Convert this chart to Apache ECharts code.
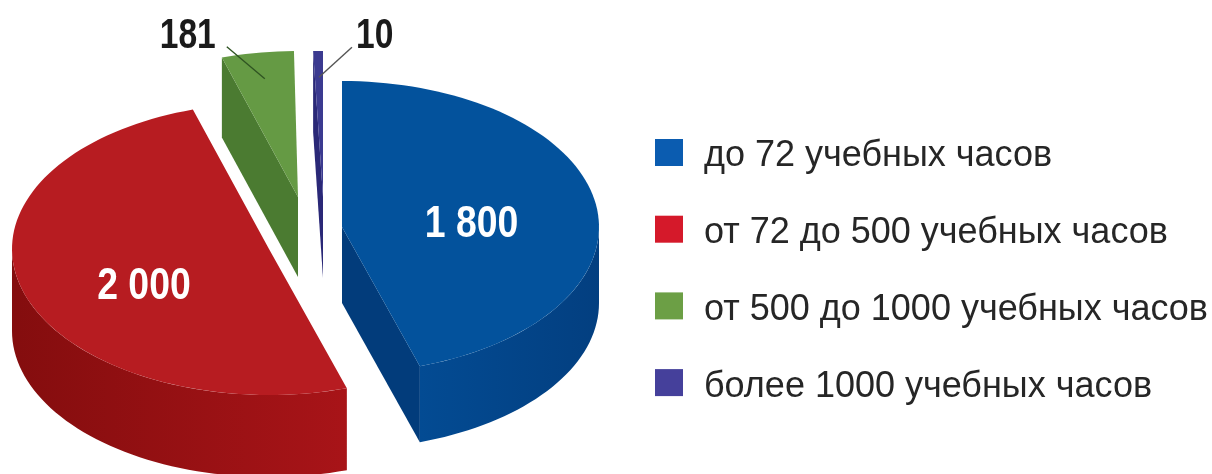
<!DOCTYPE html>
<html>
<head>
<meta charset="utf-8">
<style>html,body{margin:0;padding:0;background:#fff}#chart{width:1212px;height:474px}</style>
<script src="https://cdn.jsdelivr.net/npm/echarts@6/dist/echarts.min.js"></script>
</head>
<body>
<div id="chart"></div>
<script>
// Слушатели по продолжительности программ
const categories = ['до 72 учебных часов', 'от 72 до 500 учебных часов', 'от 500 до 1000 учебных часов', 'более 1000 учебных часов'];
const listeners = [1800, 2000, 181, 10];

// Projection of the disc and the place of each pulled-out slice
const RX = 257, RY = 146;
const MIN_SWEEP = 2.2;
const centers = [[342, 227], [269, 249], [298, 197], [323, 197]];
const depths = [76, 82, 80, 81];
const insideLabelDrop = [9, 16, 0, 0];

const legendColors = ['#0b5cb0', '#d5192a', '#6c9f45', '#45409b'];
const topColors = ['#03529c', '#b71c21', '#659a44', '#3b3a90'];
const cutColors = ['#023c7b', '#8d0f11', '#4b7b31', '#2a2877'];
const wallStops = [
  ['#034b93', '#033f80'],
  ['#840d0e', '#a81418'],
  ['#4b7b31', '#4b7b31'],
  ['#2a2877', '#2a2877']
];

const FONT = '"Liberation Sans", Arial, sans-serif';
const total = listeners.reduce((a, b) => a + b, 0);

function sweepEnd(index) {
  let sum = 0;
  for (let i = 0; i <= index; i++) sum += listeners[i];
  return sum / total * 360;
}

function onDisc(c, deg, f) {
  const a = deg * Math.PI / 180;
  return [c[0] + RX * f * Math.sin(a), c[1] - RY * f * Math.cos(a)];
}

function arc(c, a0, a1) {
  const pts = [];
  const n = Math.max(2, Math.ceil(Math.abs(a1 - a0) / 2));
  for (let i = 0; i <= n; i++) pts.push(onDisc(c, a0 + (a1 - a0) * i / n, 1));
  return pts;
}

const shift = (pts, dy) => pts.map(p => [p[0], p[1] + dy]);
const spaced = v => String(v).replace(/\B(?=(\d{3})+$)/g, ' ');

function renderSlice(index, value) {
  const c = centers[index], d = depths[index];
  const end = sweepEnd(index);
  const sweep = Math.max(value / total * 360, MIN_SWEEP);
  const start = end - sweep;
  const sin = deg => Math.sin(deg * Math.PI / 180);
  const children = [];
  const poly = (points, fill) => children.push({ type: 'polygon', shape: { points }, style: { fill } });

  // Radial cut faces that turn toward the viewer
  if (sin(start) < -1e-6 || sin(end) > 1e-6) {
    const e = onDisc(c, sin(start) < -1e-6 ? start : end, 1);
    poly([c, e, [e[0], e[1] + d], [c[0], c[1] + d]], cutColors[index]);
  }

  // Outer rim on the front half of the ellipse
  const w0 = Math.max(start, 90), w1 = Math.min(end, 270);
  if (w1 > w0) {
    const rim = arc(c, w0, w1);
    poly(rim.concat(shift(rim, d).reverse()), {
      type: 'linear', x: 0, y: 0, x2: 1, y2: 0,
      colorStops: [{ offset: 0, color: wallStops[index][0] }, { offset: 1, color: wallStops[index][1] }]
    });
  }

  // Top face
  poly([c].concat(arc(c, start, end)), topColors[index]);

  // Value labels: inside for big slices, on a leader line for thin ones
  const mid = (start + end) / 2;
  if (sweep > 60) {
    const p = onDisc(c, mid, 0.51);
    children.push({
      type: 'text',
      x: p[0],
      y: p[1] + insideLabelDrop[index],
      scaleX: 0.85,
      style: { text: spaced(value), x: 0, y: 0, fill: '#fff', font: 'bold 44px ' + FONT, align: 'center', verticalAlign: 'middle' }
    });
  } else {
    const inner = onDisc(c, mid, 0.82);
    const toRight = index === 3;
    const lineEnd = toRight ? [inner[0] + 33, inner[1] - 30] : [inner[0] - 38, inner[1] - 32];
    children.push({
      type: 'line',
      shape: { x1: inner[0], y1: inner[1], x2: lineEnd[0], y2: lineEnd[1] },
      style: { stroke: toRight ? '#555' : '#2f5422', lineWidth: 1.4 }
    });
    children.push({
      type: 'text',
      x: toRight ? lineEnd[0] + 4 : lineEnd[0] - 11,
      y: 36,
      scaleX: 0.8,
      style: {
        text: spaced(value),
        x: 0,
        y: 0,
        fill: '#1a1a1a',
        font: 'bold 42px ' + FONT,
        align: toRight ? 'left' : 'right',
        verticalAlign: 'middle'
      }
    });
  }
  return { type: 'group', children };
}

const chart = echarts.init(document.getElementById('chart'), null, { renderer: 'canvas' });
chart.setOption({
  animation: false,
  backgroundColor: '#fff',
  legend: {
    orient: 'vertical',
    left: 655,
    top: 130.5,
    padding: 0,
    itemWidth: 28,
    itemHeight: 27,
    itemGap: 32.7,
    icon: 'rect',
    selectedMode: false,
    data: categories,
    formatter: name => '{t|' + name + '}',
    textStyle: {
      rich: { t: { fontFamily: FONT, fontSize: 36, color: '#262626', lineHeight: 48, padding: [8, 0, 0, 16] } }
    }
  },
  series: categories.map((name, i) => ({
    type: 'custom',
    name,
    coordinateSystem: 'none',
    silent: true,
    itemStyle: { color: legendColors[i] },
    data: [[listeners[i]]],
    renderItem: (params, api) => renderSlice(i, api.value(0))
  }))
});
</script>
</body>
</html>
